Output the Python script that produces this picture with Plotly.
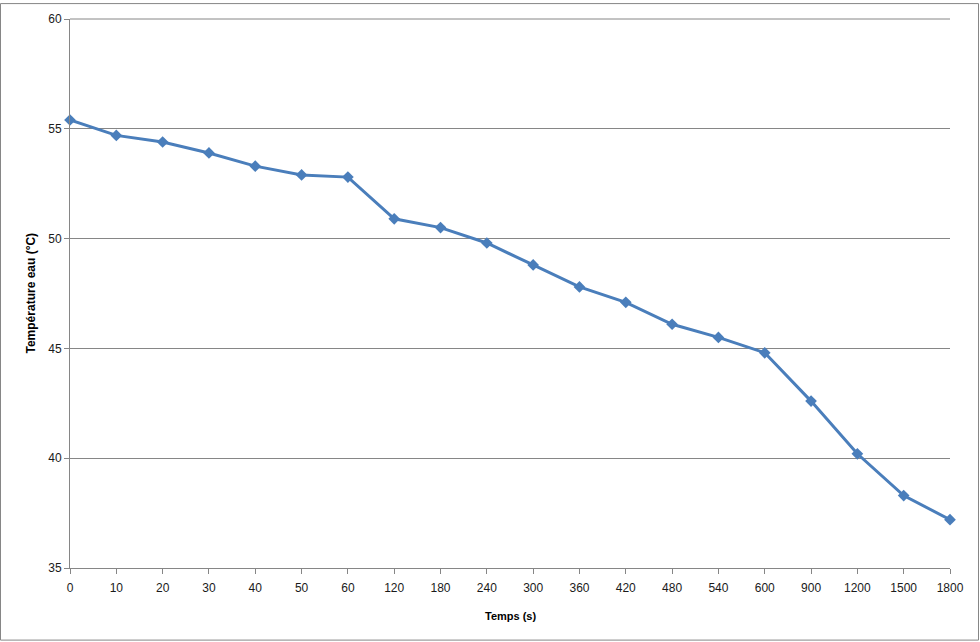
import plotly.graph_objects as go

temps = ["0", "10", "20", "30", "40", "50", "60", "120", "180", "240", "300",
         "360", "420", "480", "540", "600", "900", "1200", "1500", "1800"]
temperature = [55.4, 54.7, 54.4, 53.9, 53.3, 52.9, 52.8, 50.9, 50.5, 49.8, 48.8,
               47.8, 47.1, 46.1, 45.5, 44.8, 42.6, 40.2, 38.3, 37.2]

W, H = 980, 642
L, R, T, B = 70, 30, 16, 74
pw, ph = W - L - R, H - T - B

font = dict(family="Liberation Sans, Arial, sans-serif", size=12, color="#1a1a1a")
title_font = dict(family="Liberation Sans, Arial, sans-serif", size=11, color="#000000")

fig = go.Figure()
fig.add_trace(go.Scatter(
    x=temps, y=temperature, mode="lines+markers",
    line=dict(color="#4a7ebb", width=3),
    marker=dict(symbol="diamond", size=9, color="#4a7ebb"),
    cliponaxis=False,
    showlegend=False,
))

def px_x(p):
    return (p - L) / pw

def px_y(p):
    return (H - B - p) / ph

fig.update_layout(
    width=W, height=H,
    margin=dict(l=L, r=R, t=T, b=B),
    paper_bgcolor="white", plot_bgcolor="white",
    font=font,
    xaxis=dict(
        type="category", range=[0, len(temps) - 1],
        showgrid=False, showline=True, linecolor="#868686", linewidth=1,
        ticks="outside", ticklen=5, tickcolor="#868686",
        tickfont=font, zeroline=False, ticklabelstandoff=4,
    ),
    yaxis=dict(
        range=[35, 60], dtick=5, tick0=35,
        showgrid=True, gridcolor="#868686", gridwidth=1,
        showline=True, linecolor="#868686", linewidth=1,
        ticks="outside", ticklen=5, tickcolor="#868686",
        tickfont=font, zeroline=False, mirror=False,
    ),
    annotations=[
        dict(text="<b>Temps (s)</b>", xref="paper", yref="paper",
             x=px_x(510), y=px_y(616), xanchor="center", yanchor="middle",
             showarrow=False, font=title_font),
        dict(text="<b>Température eau (°C)</b>", xref="paper", yref="paper",
             x=px_x(30), y=px_y(292), xanchor="center", yanchor="middle",
             showarrow=False, textangle=-90,
             font=dict(family=title_font["family"], size=12, color="#000")),
    ],
    shapes=[
        dict(type="rect", xref="paper", yref="paper",
             x0=px_x(0.5), x1=px_x(978.5), y0=px_y(640.5), y1=px_y(0.5),
             line=dict(color="#868686", width=1), layer="below"),
        dict(type="line", xref="paper", yref="paper",
             x0=0, x1=1, y0=1, y1=1,
             line=dict(color="#868686", width=1), layer="below"),
    ],
)

fig.write_html(
    "out.html",
    config={"displayModeBar": False},
    post_script="document.body.style.margin='0';document.body.style.overflow='hidden';",
)
